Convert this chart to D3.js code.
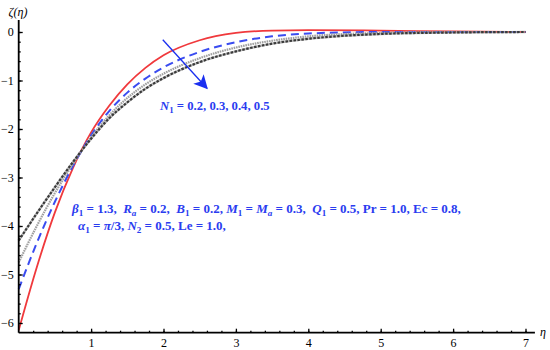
<!DOCTYPE html>
<html>
<head>
<meta charset="utf-8">
<script src="https://cdn.jsdelivr.net/npm/d3@7"></script>
<style>
  body { margin: 0; background: #fff; }
  svg text { font-family: "Liberation Serif", "DejaVu Serif", serif; white-space: pre; }
</style>
</head>
<body>
<svg id="chart" width="550" height="350"></svg>
<script>
var eta = [0, 0.25, 0.5, 0.75, 1, 1.25, 1.5, 1.75, 2, 2.5, 3, 3.5, 4, 5, 6, 7];
// zeta(eta) for N1 = 0.2, 0.3, 0.4, 0.5
var zN02 = [-6.15, -4.85, -3.72, -2.8, -2.07, -1.52, -1.08, -0.74, -0.48, -0.17, -0.02, 0.03, 0.04, 0.03, 0.01, 0];
var zN03 = [-5.3, -4.35, -3.5, -2.76, -2.13, -1.63, -1.25, -0.96, -0.73, -0.41, -0.21, -0.09, -0.03, 0, 0, 0];
var zN04 = [-4.75, -4.0, -3.32, -2.72, -2.17, -1.72, -1.36, -1.08, -0.86, -0.54, -0.32, -0.18, -0.09, -0.02, 0, 0];
var zN05 = [-4.3, -3.74, -3.2, -2.68, -2.2, -1.78, -1.45, -1.17, -0.95, -0.62, -0.4, -0.24, -0.14, -0.04, -0.01, 0];
var xTicks = [1, 2, 3, 4, 5, 6, 7];
var yTicks = [0, -1, -2, -3, -4, -5, -6];

var svg = d3.select("#chart");
var x = d3.scaleLinear().domain([0, 7]).range([18.7, 525.5]);
var y = d3.scaleLinear().domain([0, -6]).range([32, 323]);
var yBase = -6.2, xEnd = 7.13, yTop = 0.25;

// curves
var series = [
  { v: zN02, color: "#f0393c", w: 1.8, dash: null },
  { v: zN03, color: "#3a4cf0", w: 2, dash: "8,5" },
  { v: zN04, color: "#a0a0a0", w: 2.2, dash: "1.6,0.8" },
  { v: zN05, color: "#3a3a3a", w: 2.2, dash: "2.5,1.5" }
];
var line = d3.line()
  .x(function (d, i) { return x(eta[i]); })
  .y(function (d) { return y(d); })
  .curve(d3.curveMonotoneX);

// light gray halo under the black dashed curve
svg.append("path").attr("d", line(zN05)).attr("fill", "none")
  .attr("stroke", "#bbb").attr("stroke-width", 2.4);

series.forEach(function (s) {
  svg.append("path").attr("d", line(s.v)).attr("fill", "none")
    .attr("stroke", s.color).attr("stroke-width", s.w)
    .attr("stroke-dasharray", s.dash);
});

// x axis (ticks pointing up)
var gx = svg.append("g").attr("transform", "translate(0," + y(yBase) + ")");
gx.call(d3.axisBottom(x).tickValues(d3.range(0.2, 7.01, 0.2)).tickSize(-2).tickFormat(""));
gx.call(function (g) {
  g.append("g").call(d3.axisBottom(x).tickValues(xTicks).tickSize(-4).tickPadding(6).tickFormat(d3.format("d")));
});
gx.selectAll(".domain").remove();
gx.append("line").attr("x1", x(0)).attr("x2", x(xEnd)).attr("stroke", "#000").attr("stroke-width", 1.8);
gx.selectAll("text").attr("font-size", 12).attr("fill", "#000");
gx.selectAll(".tick line").attr("stroke", "#000").attr("stroke-width", 1.3);

// y axis (ticks pointing right)
var gy = svg.append("g").attr("transform", "translate(" + x(0) + ",0)");
gy.call(d3.axisLeft(y).tickValues(d3.range(0, -6.01, -0.2)).tickSize(-2).tickFormat(""));
gy.call(function (g) {
  g.append("g").call(d3.axisLeft(y).tickValues(yTicks).tickSize(-4).tickPadding(5).tickFormat(d3.format("d")));
});
gy.selectAll(".domain").remove();
gy.append("line").attr("y1", y(yBase)).attr("y2", y(yTop)).attr("stroke", "#000").attr("stroke-width", 1.8);
gy.selectAll("text").attr("font-size", 12).attr("fill", "#000");
gy.selectAll(".tick line").attr("stroke", "#000").attr("stroke-width", 1.3);

// axis labels
svg.append("text").attr("x", 18).attr("y", 16).attr("text-anchor", "middle")
  .attr("font-size", 12).attr("font-style", "italic").text("ζ(η)");
svg.append("text").attr("x", x(xEnd) + 5).attr("y", y(yBase) + 3)
  .attr("font-size", 12).attr("font-style", "italic").text("η");

// arrow
var arrowFrom = [1.99, -0.16], arrowTo = [2.6, -1.16];
svg.append("defs").append("marker").attr("id", "head")
  .attr("viewBox", "0 0 10 10").attr("refX", 9).attr("refY", 5)
  .attr("markerWidth", 18).attr("markerHeight", 14).attr("markerUnits", "userSpaceOnUse")
  .attr("orient", "auto")
  .append("path").attr("d", "M0,0L10,5L0,10L2.5,5Z").attr("fill", "#1a2ff0");
svg.append("line")
  .attr("x1", x(arrowFrom[0])).attr("y1", y(arrowFrom[1]))
  .attr("x2", x(arrowTo[0])).attr("y2", y(arrowTo[1]))
  .attr("stroke", "#1a2ff0").attr("stroke-width", 1.3).attr("marker-end", "url(#head)");

// rich text helper: segments [text, italic, subscript, back-to-baseline]
function rich(xp, yp, segs, size) {
  var t = svg.append("text").attr("x", xp).attr("y", yp)
    .attr("font-size", size).attr("font-weight", "bold").attr("fill", "#2a3cf0");
  segs.forEach(function (s) {
    var ts = t.append("tspan").text(s[0]);
    if (s[1]) ts.attr("font-style", "italic");
    if (s[2]) ts.attr("font-size", size * 0.7).attr("dy", 3);
    else if (s[3]) ts.attr("dy", -3);
  });
  return t;
}

rich(160, 110, [["N", 1], ["1", 0, 1], [" = 0.2, 0.3, 0.4, 0.5", 0, 0, 1]], 12.7);
rich(72, 213, [
  ["β", 1], ["1", 0, 1], [" = 1.3,  ", 0, 0, 1], ["R", 1], ["a", 1, 1], [" = 0.2,  ", 0, 0, 1],
  ["B", 1], ["1", 0, 1], [" = 0.2, ", 0, 0, 1], ["M", 1], ["1", 0, 1], [" = ", 0, 0, 1],
  ["M", 1], ["a", 1, 1], [" = 0.3,  ", 0, 0, 1], ["Q", 1], ["1", 0, 1],
  [" = 0.5, Pr = 1.0, Ec = 0.8,", 0, 0, 1]
], 13);
rich(78, 230, [
  ["α", 1], ["1", 0, 1], [" = ", 0, 0, 1], ["π", 1], ["/3, ", 0], ["N", 1], ["2", 0, 1],
  [" = 0.5, Le = 1.0,", 0, 0, 1]
], 13);
</script>
</body>
</html>
